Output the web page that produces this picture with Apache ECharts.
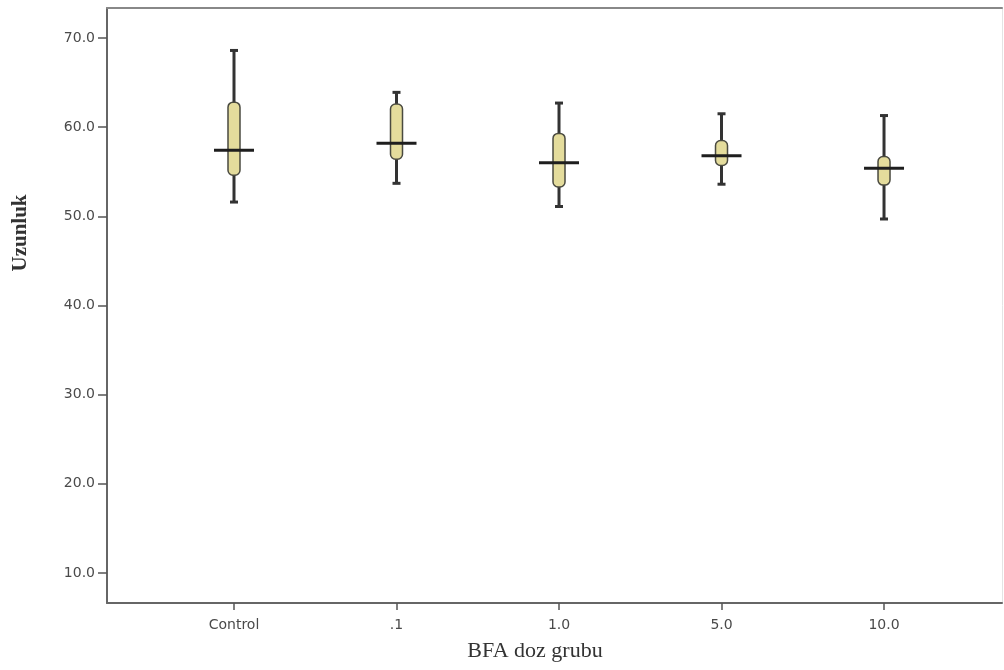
<!DOCTYPE html>
<html>
<head>
<meta charset="utf-8">
<script src="https://cdn.jsdelivr.net/npm/echarts@6/dist/echarts.min.js"></script>
<style>
html,body{margin:0;padding:0;background:#fff;}
#chart{width:1004px;height:670px;}
</style>
</head>
<body>
<div id="chart"></div>
<script>
// Data
var categories = ['Control', '.1', '1.0', '5.0', '10.0'];
var whiskerLow = [51.6, 53.7, 51.1, 53.6, 49.7];
var q1 = [54.6, 56.4, 53.3, 55.7, 53.5];
var median = [57.4, 58.2, 56.0, 56.8, 55.4];
var q3 = [62.8, 62.6, 59.3, 58.5, 56.7];
var whiskerHigh = [68.6, 63.9, 62.7, 61.5, 61.3];
var yTicks = [10, 20, 30, 40, 50, 60, 70];
var xTitle = 'BFA doz grubu';
var yTitle = 'Uzunluk';

var catIdx = categories.map(function (c, i) { return i; });
var boxData = categories.map(function (c, i) {
  return [i, whiskerLow[i], q1[i], median[i], q3[i], whiskerHigh[i]];
});

var chart = echarts.init(document.getElementById('chart'), null, {renderer: 'canvas'});

function renderBox(params, api) {
  var i = api.value(0);
  var pLow = api.coord([i, api.value(1)]);
  var pQ1 = api.coord([i, api.value(2)]);
  var pMed = api.coord([i, api.value(3)]);
  var pQ3 = api.coord([i, api.value(4)]);
  var pHigh = api.coord([i, api.value(5)]);
  var x = pMed[0];
  var lineColor = '#333';
  return {
    type: 'group',
    children: [
      {type: 'line', shape: {x1: x, y1: pHigh[1], x2: x, y2: pLow[1]},
       style: {stroke: lineColor, lineWidth: 3}},
      {type: 'line', shape: {x1: x - 4, y1: pHigh[1], x2: x + 4, y2: pHigh[1]},
       style: {stroke: lineColor, lineWidth: 3}},
      {type: 'line', shape: {x1: x - 4, y1: pLow[1], x2: x + 4, y2: pLow[1]},
       style: {stroke: lineColor, lineWidth: 3}},
      {type: 'rect', shape: {x: x - 6, y: pQ3[1], width: 12, height: pQ1[1] - pQ3[1], r: 5},
       style: {fill: '#e4dc9c', stroke: '#4a4a40', lineWidth: 1.5}},
      {type: 'line', shape: {x1: x - 20, y1: pMed[1], x2: x + 20, y2: pMed[1]},
       style: {stroke: '#1e1e1e', lineWidth: 3}}
    ]
  };
}

var option = {
  backgroundColor: '#fff',
  animation: false,
  grid: {left: 107, right: 2, top: 8, bottom: 67, containLabel: false},
  xAxis: [{
    type: 'value', position: 'bottom',
    min: -0.7815, max: 4.726,
    axisLine: {show: true, lineStyle: {color: '#666', width: 2}},
    axisTick: {show: true, customValues: catIdx, length: 7, lineStyle: {color: '#555', width: 1.5}},
    axisLabel: {customValues: catIdx, margin: 15,
      fontFamily: 'DejaVu Sans', fontSize: 14, color: '#4a4a4a',
      formatter: function (v) { return categories[Math.round(v)]; }},
    splitLine: {show: false}
  }, {
    type: 'value', position: 'top',
    min: -0.7815, max: 4.726,
    axisLine: {show: true, onZero: false, lineStyle: {color: '#888', width: 2}},
    axisTick: {show: false}, axisLabel: {show: false}, splitLine: {show: false}
  }],
  yAxis: [{
    type: 'value', position: 'left',
    min: 6.64, max: 73.36,
    axisLine: {show: true, onZero: false, lineStyle: {color: '#666', width: 2}},
    axisTick: {show: true, customValues: yTicks, length: 9, lineStyle: {color: '#555', width: 1.5}},
    axisLabel: {customValues: yTicks, margin: 12,
      fontFamily: 'DejaVu Sans', fontSize: 14, color: '#4a4a4a',
      formatter: function (v) { return v.toFixed(1); }},
    splitLine: {show: false}
  }, {
    type: 'value', position: 'right',
    min: 6.64, max: 73.36,
    axisLine: {show: true, onZero: false, lineStyle: {color: '#e4e4e4', width: 1}},
    axisTick: {show: false}, axisLabel: {show: false}, splitLine: {show: false}
  }],
  graphic: [
    {type: 'text', x: 535, y: 651,
     style: {text: xTitle, font: '22px "Liberation Serif"', fill: '#333',
             textAlign: 'center', textVerticalAlign: 'middle'}},
    {type: 'text', x: 21, y: 233, rotation: Math.PI / 2,
     style: {text: yTitle, font: 'bold 21px "Liberation Serif"', fill: '#333',
             textAlign: 'center', textVerticalAlign: 'middle'}}
  ],
  series: [{
    type: 'custom',
    xAxisIndex: 0, yAxisIndex: 0,
    renderItem: renderBox,
    encode: {x: 0, y: [1, 2, 3, 4, 5]},
    data: boxData
  }]
};
chart.setOption(option);
</script>
</body>
</html>
